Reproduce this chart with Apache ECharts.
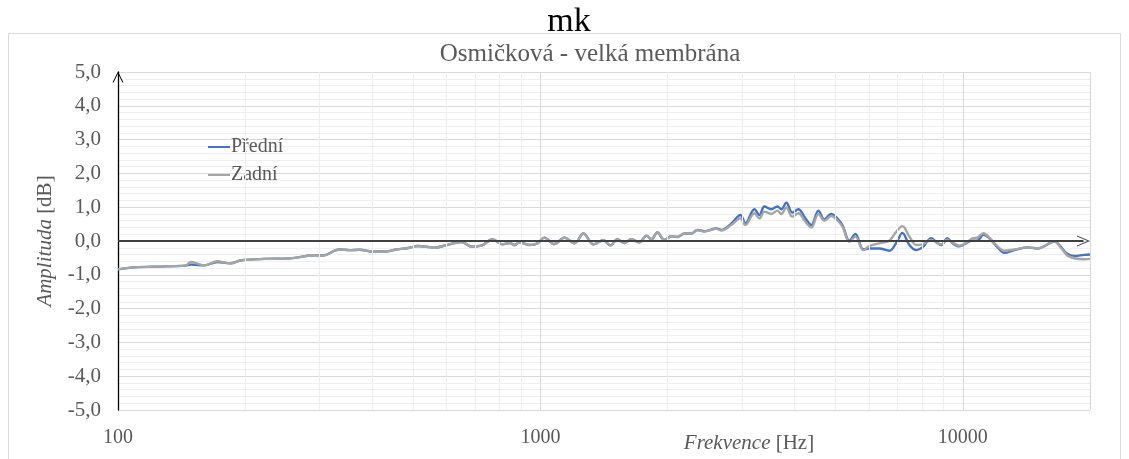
<!DOCTYPE html>
<html>
<head>
<meta charset="utf-8">
<script src="https://cdn.jsdelivr.net/npm/echarts@6/dist/echarts.min.js"></script>
<style>
html,body{margin:0;padding:0;background:#fff;}
#c{width:1129px;height:459px;}
</style>
</head>
<body>
<div id="c"></div>
<script>
// ---- data ----
const freqs = [100,109,129,144,149,160,172,184,196,222,248,262,292,305,334,353,373,400,432,456,490,512,546,561,599,650,690,729,770,813,845,868,892,942,984,1022,1079,1140,1204,1264,1335,1410,1465,1521,1581,1642,1715,1782,1831,1892,1966,2042,2110,2192,2278,2353,2444,2610,2682,2832,2975,3057,3210,3299,3390,3522,3639,3719,3821,3948,4080,4238,4379,4550,4701,4884,5019,5186,5388,5567,5814,6007,6344,6699,6962,7193,7472,7762,8019,8422,8701,8894,9190,9443,9810,10193,10531,10822,11182,11554,12006,12541,13243,14214,15008,16197,16465,17104,17673,18360,19395,20000];
const predni = [-0.84,-0.78,-0.75,-0.73,-0.70,-0.72,-0.62,-0.66,-0.57,-0.53,-0.52,-0.50,-0.42,-0.43,-0.25,-0.27,-0.26,-0.31,-0.31,-0.25,-0.20,-0.15,-0.18,-0.20,-0.12,-0.03,-0.17,-0.12,0.05,-0.10,-0.06,-0.12,-0.04,-0.12,-0.07,0.10,-0.09,0.10,-0.07,0.22,-0.10,0.02,-0.13,0.05,-0.06,0.05,-0.04,0.16,0.05,0.25,0.03,0.14,0.12,0.22,0.22,0.33,0.29,0.37,0.33,0.52,0.77,0.52,0.94,0.77,1.02,0.94,1.02,0.94,1.13,0.84,0.94,0.67,0.47,0.90,0.64,0.80,0.70,0.47,0.01,0.21,-0.25,-0.22,-0.22,-0.29,-0.05,0.24,-0.12,-0.27,-0.19,0.08,-0.06,-0.12,0.08,-0.06,-0.16,-0.06,0.01,0.01,0.18,0.08,-0.15,-0.35,-0.27,-0.19,-0.22,-0.04,-0.01,-0.19,-0.38,-0.44,-0.41,-0.40];
const zadni = [-0.84,-0.78,-0.75,-0.73,-0.62,-0.72,-0.60,-0.66,-0.57,-0.53,-0.52,-0.50,-0.42,-0.43,-0.25,-0.27,-0.26,-0.31,-0.31,-0.25,-0.20,-0.15,-0.18,-0.20,-0.12,-0.03,-0.17,-0.12,0.05,-0.10,-0.06,-0.12,-0.04,-0.12,-0.07,0.10,-0.09,0.10,-0.07,0.22,-0.10,0.02,-0.13,0.05,-0.06,0.05,-0.04,0.16,0.05,0.25,0.03,0.14,0.12,0.22,0.22,0.32,0.28,0.36,0.31,0.48,0.67,0.47,0.82,0.67,0.87,0.80,0.90,0.80,0.99,0.72,0.82,0.57,0.40,0.80,0.60,0.74,0.64,0.43,-0.02,0.13,-0.27,-0.15,-0.07,0.01,0.28,0.44,0.13,-0.12,-0.10,0.03,-0.06,-0.10,0.04,-0.04,-0.14,-0.05,0.08,0.10,0.23,0.10,-0.12,-0.29,-0.25,-0.19,-0.22,-0.04,-0.01,-0.21,-0.43,-0.51,-0.54,-0.53];
const seriesNames = ['Přední','Zadní'];
const xTickLabels = [100,1000,10000];
const xMinorGrid = [200,300,400,500,600,700,800,900,2000,3000,4000,5000,6000,7000,8000,9000];
const yTicks = {min:-5,max:5,interval:1};
const titleText = 'mk';
const subtitleText = 'Osmičková - velká membrána';
// --------------

const FONT = 'Liberation Serif';
const chevron = 'path://M0,10 L5,0 L10,10 L9,10 L5,1.8 L1,10 Z';
const chart = echarts.init(document.getElementById('c'));

const gridLines = xMinorGrid.map(v => ({xAxis:v, lineStyle:{color:'#efefef',width:1,type:'solid'}}));
const zeroLine = [
  {coord:[100,0], symbol:'none', lineStyle:{color:'#404040',width:1.8,type:'solid'}},
  {coord:[19300,0], symbol:chevron, symbolSize:[11,13]}
];

chart.setOption({
  animation:false,
  backgroundColor:'#fff',
  title:[
    {text:titleText, left:564, textAlign:'center', top:0, textStyle:{fontFamily:FONT,fontSize:34,fontWeight:'normal',color:'#000'}},
    {text:subtitleText, left:585, textAlign:'center', top:37, textStyle:{fontFamily:FONT,fontSize:25,fontWeight:'normal',color:'#595959'}}
  ],
  graphic:[
    {type:'rect', shape:{x:8.5,y:33.5,width:1112,height:440}, style:{fill:'none',stroke:'#d9d9d9',lineWidth:1}, silent:true, z:-10},
    {type:'text', x:749, y:443, style:{text:'{i|Frekvence} [Hz]', fontFamily:FONT, fontSize:21, fill:'#595959', align:'center', verticalAlign:'middle', rich:{i:{fontStyle:'italic',fontFamily:FONT,fontSize:21,fill:'#595959'}}}}
  ],
  legend:{
    data:seriesNames.map(n => ({name:n, icon:'rect'})),
    orient:'vertical', left:203, top:132, itemWidth:22, itemHeight:2, itemGap:8,
    textStyle:{fontFamily:FONT,fontSize:20,color:'#595959',lineHeight:20,padding:[0,0,0,-4]}
  },
  grid:{left:118,right:39,top:72,bottom:49,containLabel:false},
  xAxis:{
    type:'log', logBase:10, min:100, max:20000,
    axisLine:{show:false}, axisTick:{show:false},
    splitLine:{show:true,lineStyle:{color:'#d9d9d9',width:1}},
    minorSplitLine:{show:false},
    axisLabel:{fontFamily:FONT,fontSize:20,color:'#595959',margin:18,
      formatter:v => xTickLabels.includes(Math.round(v)) ? String(Math.round(v)) : ''}
  },
  yAxis:{
    type:'value', min:yTicks.min, max:yTicks.max, interval:yTicks.interval,
    name:'{i|Amplituda} [dB]', nameLocation:'middle', nameGap:62, nameRotate:90,
    nameTextStyle:{fontFamily:FONT,fontSize:21,color:'#595959',rich:{i:{fontStyle:'italic',fontFamily:FONT,fontSize:21,color:'#595959'}}},
    axisLine:{show:true,lineStyle:{color:'#000',width:1.3},symbol:['none',chevron],symbolSize:[11,13],symbolOffset:[0,-5]},
    axisTick:{show:false},
    splitLine:{show:true,lineStyle:{color:'#d9d9d9',width:1}},
    minorTick:{show:false,splitNumber:5},
    minorSplitLine:{show:true,lineStyle:{color:'#efefef',width:1}},
    axisLabel:{fontFamily:FONT,fontSize:21,color:'#595959',margin:17,
      formatter:v => v.toFixed(1).replace('.',',')}
  },
  series:[
    {name:'_grid', type:'line', data:[], z:1, silent:true,
      markLine:{silent:true, symbol:'none', label:{show:false}, animation:false,
        data:[...gridLines, zeroLine]}},
    {name:seriesNames[0], type:'line', z:3, smooth:0.35, symbol:'none',
      lineStyle:{color:'#4472C4',width:2.4}, itemStyle:{color:'#4472C4'},
      data:freqs.map((f,i)=>[f,predni[i]])},
    {name:seriesNames[1], type:'line', z:4, smooth:0.35, symbol:'none',
      lineStyle:{color:'#A5A5A5',width:2.4}, itemStyle:{color:'#A5A5A5'},
      data:freqs.map((f,i)=>[f,zadni[i]])}
  ]
});
</script>
</body>
</html>
